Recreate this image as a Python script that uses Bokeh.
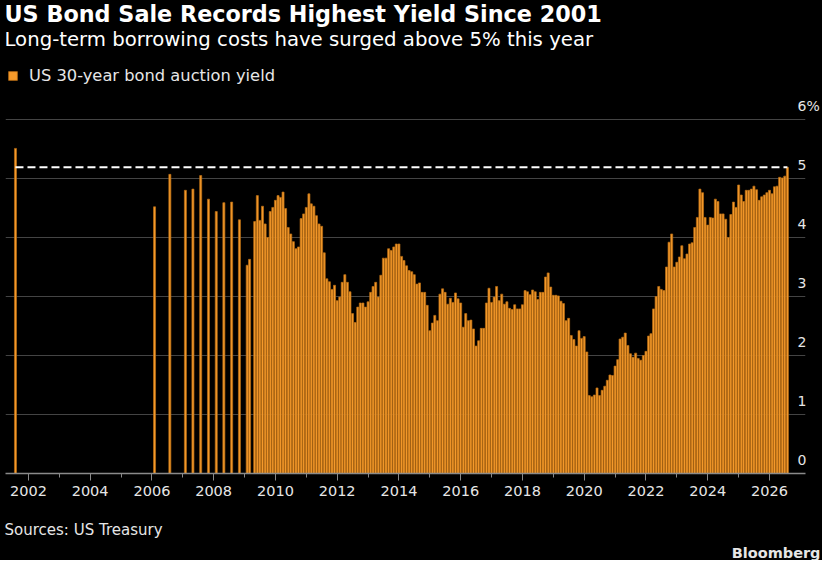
import pandas as pd
from bokeh.embed import file_html
from bokeh.layouts import column
from bokeh.models import (ColumnDataSource, DatetimeTickFormatter, FixedTicker,
                          Label, Legend, LegendItem, LinearAxis, Range1d, Title)
from bokeh.plotting import figure
from bokeh.resources import INLINE

# Sparse 30-year auctions before the bond went monthly (yield, %)
early_months = ["2001-08", "2006-02", "2006-08", "2007-02", "2007-05", "2007-08",
                "2007-11", "2008-02", "2008-05", "2008-08", "2008-11", "2009-02",
                "2009-03"]
early_yields = [5.51, 4.52, 5.07, 4.80, 4.82, 5.05,
                4.65, 4.44, 4.59, 4.60, 4.30, 3.53,
                3.63]

# Monthly auctions, May 2009 onwards
monthly_start = "2009-05"
monthly_yields = [
    4.27, 4.71, 4.29, 4.53, 4.23, 4.00, 4.44, 4.51,                    # 2009
    4.63, 4.71, 4.68, 4.77, 4.49, 4.17, 4.06, 3.93, 3.81, 3.84, 4.32, 4.40,  # 2010
    4.51, 4.74, 4.57, 4.53, 4.37, 4.23, 4.19, 3.74, 3.30, 3.25, 3.12, 3.19,  # 2011
    2.93, 2.99, 3.24, 3.37, 3.24, 3.08, 2.71, 2.56, 2.82, 2.89, 2.89, 2.82,  # 2012
    2.91, 3.07, 3.17, 3.24, 2.99, 3.36, 3.65, 3.65, 3.81, 3.78, 3.84, 3.89,  # 2013
    3.89, 3.68, 3.61, 3.52, 3.44, 3.42, 3.37, 3.21, 3.23, 3.07, 3.07, 2.85,  # 2014
    2.42, 2.55, 2.68, 2.59, 3.04, 3.13, 3.07, 2.87, 2.97, 2.90, 3.06, 2.96,  # 2015
    2.89, 2.48, 2.71, 2.59, 2.60, 2.45, 2.16, 2.25, 2.46, 2.46, 2.89, 3.14,  # 2016
    2.90, 2.99, 3.17, 2.93, 3.04, 2.87, 2.91, 2.80, 2.78, 2.86, 2.79, 2.79,  # 2017
    2.86, 3.10, 3.08, 3.03, 3.11, 3.08, 2.95, 3.07, 3.07, 3.33, 3.40, 3.16,  # 2018
    3.02, 3.02, 3.01, 2.92, 2.88, 2.59, 2.63, 2.34, 2.27, 2.16, 2.42, 2.29,  # 2019
    2.32, 2.06, 1.32, 1.30, 1.33, 1.45, 1.32, 1.41, 1.48, 1.58, 1.67, 1.66,  # 2020
    1.82, 1.93, 2.28, 2.31, 2.38, 2.17, 2.03, 1.97, 2.04, 1.95, 1.92, 2.00,  # 2021
    2.07, 2.33, 2.37, 2.79, 3.00, 3.17, 3.12, 3.10, 3.50, 3.92, 4.06, 3.50,  # 2022
    3.58, 3.67, 3.86, 3.64, 3.72, 3.89, 3.91, 4.17, 4.34, 4.82, 4.76, 4.34,  # 2023
    4.21, 4.34, 4.33, 4.65, 4.61, 4.40, 4.40, 4.31, 4.00, 4.39, 4.60, 4.51,  # 2024
    4.89, 4.72, 4.61, 4.80, 4.80, 4.82, 4.87, 4.81, 4.63, 4.69, 4.72, 4.76,  # 2025
    4.80, 4.74, 4.86, 4.87, 5.02, 5.01, 5.04, 5.19,                    # 2026
]

y_ticks = [0, 1, 2, 3, 4, 5, 6]
x_label_years = list(range(2002, 2027, 2))
x_minor_years = list(range(2003, 2026, 2))

ORANGE = "#f59a2b"
FONT = "DejaVu Sans"
TEXT = "#e6e6e6"

monthly_months = [str(m) for m in pd.period_range(monthly_start, periods=len(monthly_yields), freq="M")]
dates = pd.to_datetime(early_months + monthly_months)
yields = early_yields + monthly_yields
source = ColumnDataSource(data=dict(date=dates, yld=yields))


def year_ms(y):
    return pd.Timestamp(f"{y}-01-01").value // 10**6


W = 822
PX_PER_PCT = 59
FRAME_H = 473
AXIS_H = 30
FOOT_H = 57
y_top = FRAME_H / PX_PER_PCT          # frame runs to the top of the figure
label_lift = 14 / PX_PER_PCT          # value labels sit above their gridline

p = figure(
    width=W, height=FRAME_H + AXIS_H,
    x_axis_type="datetime",
    x_range=Range1d(pd.Timestamp("2001-04-05"), pd.Timestamp("2027-03-03")),
    y_range=Range1d(0, y_top),
    y_axis_location=None,
    toolbar_location=None,
    output_backend="svg",
    background_fill_color="black",
    border_fill_color="black",
    outline_line_color=None,
    min_border_left=5, min_border_right=13,
    min_border_top=0, min_border_bottom=AXIS_H,
)

bars = p.vbar(x="date", top="yld", width=24 * 24 * 3600 * 1000, source=source,
              fill_color=ORANGE, line_color="#b86d14", line_width=0.7)

# dashed line at the latest auction yield
p.line(x=[dates[0], dates[-1]], y=[yields[-1], yields[-1]],
       line_color="white", line_width=2, line_dash="8 4")

p.xgrid.visible = False
p.ygrid.ticker = FixedTicker(ticks=y_ticks[1:])
p.ygrid.grid_line_color = "#444444"
p.ygrid.grid_line_width = 1.2

xa = p.xaxis[0]
xa.ticker = FixedTicker(ticks=[year_ms(y) for y in x_label_years],
                        minor_ticks=[year_ms(y) for y in x_minor_years])
xa.formatter = DatetimeTickFormatter(years="%Y", months="%Y", days="%Y")
xa.axis_line_color = "#8a8a8a"
xa.axis_line_width = 1.5
xa.major_tick_line_color = "#8a8a8a"
xa.minor_tick_line_color = "#8a8a8a"
xa.major_tick_out = 7
xa.major_tick_in = 0
xa.minor_tick_out = 4
xa.minor_tick_in = 0
xa.major_label_standoff = 5
xa.major_label_text_font = FONT
xa.major_label_text_font_size = "14.5px"
xa.major_label_text_color = TEXT

# right-hand value labels: a shifted range lifts each label above its gridline
p.extra_y_ranges = {"labels": Range1d(-label_lift, y_top - label_lift)}
ya = LinearAxis(y_range_name="labels", ticker=FixedTicker(ticks=y_ticks),
                major_label_overrides={6: "6%"},
                axis_line_color=None, major_tick_line_color=None, minor_tick_line_color=None,
                major_tick_out=0, major_tick_in=0, major_label_standoff=-8,
                major_label_text_font=FONT, major_label_text_font_size="14px",
                major_label_text_color=TEXT)
p.add_layout(ya, "right")

legend = Legend(items=[LegendItem(label="US 30-year bond auction yield", renderers=[bars])],
                location=(2, 388), orientation="horizontal",
                background_fill_alpha=0, border_line_color=None,
                label_text_color=TEXT, label_text_font=FONT, label_text_font_size="16.3px",
                glyph_width=11, glyph_height=11, padding=0, margin=0, label_standoff=11)
p.add_layout(legend, "center")

p.add_layout(Label(x=-1, y=FRAME_H - 13, x_units="screen", y_units="screen",
                   text="US Bond Sale Records Highest Yield Since 2001",
                   text_font=FONT, text_font_style="bold", text_font_size="22.3px",
                   text_color="white", text_baseline="alphabetic"))
p.add_layout(Label(x=-1, y=FRAME_H - 39, x_units="screen", y_units="screen",
                   text="Long-term borrowing costs have surged above 5% this year",
                   text_font=FONT, text_font_size="19.7px",
                   text_color="white", text_baseline="alphabetic"))

# footer strip: source line and brand, as titles so they are not clipped
foot = figure(width=W, height=FOOT_H, x_axis_location=None, y_axis_location=None,
              toolbar_location=None, output_backend="svg",
              background_fill_color="black", border_fill_color="black",
              outline_line_color=None,
              min_border_left=0, min_border_right=0, min_border_top=0, min_border_bottom=0)
foot.grid.visible = False
foot.add_layout(Title(text="Sources: US Treasury", align="left", offset=-1,
                      text_font=FONT, text_font_size="15px", text_font_style="normal",
                      text_color=TEXT, standoff=7), "below")
foot.add_layout(Title(text="Bloomberg", align="right", offset=-15,
                      text_font=FONT, text_font_size="14.5px", text_font_style="bold",
                      text_color=TEXT, standoff=0), "below")

layout = column(p, foot, spacing=0, background="black")

open("out.html", "w").write(file_html(layout, INLINE))
